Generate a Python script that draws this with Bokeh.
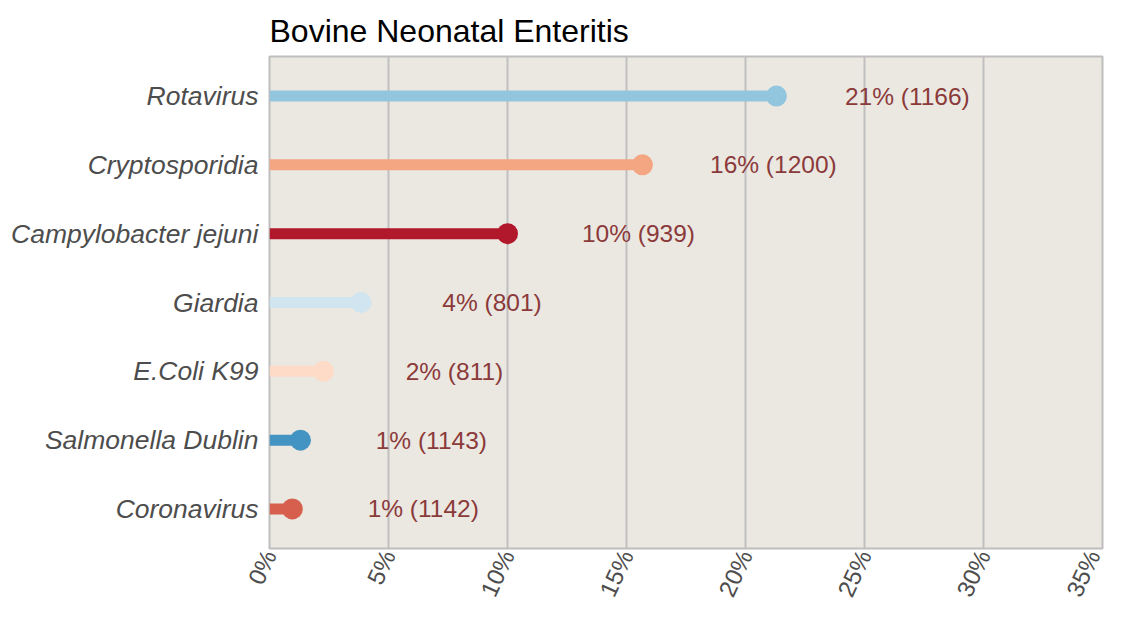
from bokeh.plotting import figure
from bokeh.models import ColumnDataSource, FactorRange, Range1d, FixedTicker, PrintfTickFormatter
from bokeh.core.properties import value
from bokeh.embed import file_html
from bokeh.resources import INLINE
import math

categories = ["Rotavirus", "Cryptosporidia", "Campylobacter jejuni", "Giardia",
              "E.Coli K99", "Salmonella Dublin", "Coronavirus"]
percent = [21.3, 15.67, 10.0, 3.85, 2.27, 1.3, 0.96]
counts = [1166, 1200, 939, 801, 811, 1143, 1142]
colors = ["#92c5de", "#f4a582", "#b2182b", "#d1e5f0", "#fddbc7", "#4393c3", "#d6604d"]
x_ticks = [0, 5, 10, 15, 20, 25, 30, 35]

LABEL_OFFSET = 5.5
FONT = "Liberation Sans"

labels = [f"{round(v)}% ({n})" for v, n in zip(percent, counts)]
src = ColumnDataSource(dict(
    cat=categories, pct=percent, zero=[0] * len(percent), color=colors,
    label=labels, lx=[v + LABEL_OFFSET for v in percent],
))

p = figure(
    width=1105, height=609,
    y_range=FactorRange(factors=list(reversed(categories)), range_padding=0.0214,
                        range_padding_units="percent"),
    x_range=Range1d(0, 35),
    output_backend="svg", toolbar_location=None,
    title="Bovine Neonatal Enteritis",
    min_border_left=269, min_border_right=3, min_border_top=56, min_border_bottom=57,
)

p.segment(x0="zero", y0="cat", x1="pct", y1="cat", line_color="color", line_width=11,
          line_cap="butt", source=src)
p.scatter(x="pct", y="cat", size=21, fill_color="color", line_color=None, source=src)
p.text(x="lx", y="cat", text="label", text_align="center", text_baseline="middle",
       text_font_size="24.5px", text_color="#8b3a3a", text_font=value(FONT), source=src)

p.background_fill_color = "#ebe8e2"
p.border_fill_color = "white"
p.outline_line_color = "#bebebe"
p.outline_line_width = 2

p.title.text_font = FONT
p.title.text_font_size = "32px"
p.title.text_font_style = "normal"
p.title.text_color = "black"
p.title.align = "left"
p.title.text_line_height = 0.85
p.title.standoff = 16

p.xgrid.grid_line_color = "#c0c0c0"
p.xgrid.grid_line_width = 2
p.ygrid.grid_line_color = None

p.xaxis.ticker = FixedTicker(ticks=x_ticks)
p.xaxis.formatter = PrintfTickFormatter(format="%d%%")
p.xaxis.major_label_orientation = 65 * math.pi / 180
p.xaxis.major_label_text_font_size = "24px"
p.xaxis.major_label_standoff = 3

for ax in (p.xaxis, p.yaxis):
    ax.axis_line_color = None
    ax.major_tick_line_color = None
    ax.minor_tick_line_color = None
    ax.major_tick_out = 0
    ax.major_tick_in = 0
    ax.major_label_text_color = "#4d4d4d"
    ax.major_label_text_font = FONT

p.yaxis.major_label_text_font_size = "26.5px"
p.yaxis.major_label_text_font_style = "italic"
p.yaxis.major_label_standoff = 11

open("out.html", "w").write(file_html(p, INLINE))
